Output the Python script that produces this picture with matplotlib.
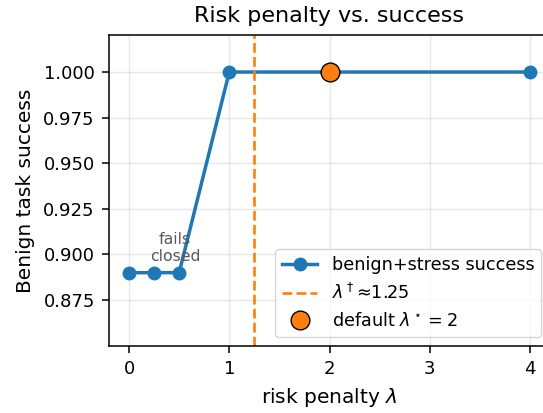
import matplotlib
matplotlib.use("Agg")
import matplotlib.pyplot as plt

lambdas = [0, 0.25, 0.5, 1, 2, 4]
success = [0.89, 0.89, 0.89, 1.0, 1.0, 1.0]
lambda_dagger = 1.25
lambda_star = 2
star_success = 1.0

fig = plt.figure(figsize=(5.43, 4.13), dpi=100)
ax = fig.add_axes([109/543, 67/413, 441/543, 311/413])

ax.plot(lambdas, success, '-o', color='C0', lw=2.5, ms=9, label='benign+stress success')
ax.axvline(lambda_dagger, color='C1', ls='--', lw=1.9, label=r'$\lambda^\dagger$≈1.25')
ax.plot([lambda_star], [star_success], 'o', color='C1', mec='black', mew=1.0, ms=13.5,
        ls='none', label=r'default $\lambda^\star=2$', zorder=5)
ax.text(0.46, 0.9035, 'fails\nclosed', ha='center', va='center', fontsize=11.3, color='0.35')

ax.set_xlim(-0.2, 4.2)
ax.set_ylim(0.8498, 1.0203)
ax.set_xticks([0, 1, 2, 3, 4])
ax.set_yticks([0.875, 0.9, 0.925, 0.95, 0.975, 1.0])
ax.set_yticklabels(['0.875', '0.900', '0.925', '0.950', '0.975', '1.000'])
ax.tick_params(labelsize=13, length=5.2, width=1.1, pad=5)
for s in ax.spines.values():
    s.set_linewidth(1.1)
ax.grid(True, alpha=0.3, lw=1.0)
ax.set_xlabel(r'risk penalty $\lambda$', fontsize=14.5, labelpad=5.5)
ax.set_ylabel('Benign task success', fontsize=14.5, labelpad=6)
ax.set_title('Risk penalty vs. success', fontsize=16, pad=9)
ax.legend(loc='lower right', fontsize=12.7)

fig.savefig('out.png', dpi=100)
